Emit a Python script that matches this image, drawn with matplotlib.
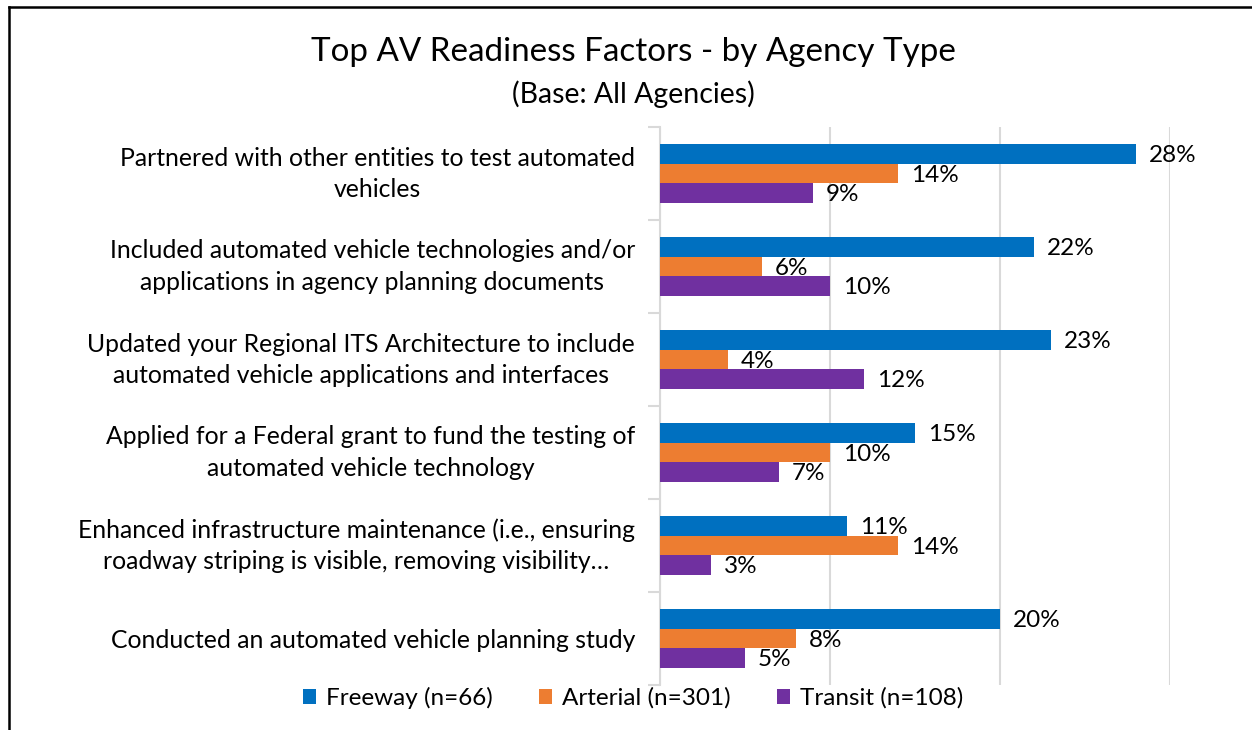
import matplotlib.pyplot as plt
import numpy as np
from matplotlib.lines import Line2D
from matplotlib.transforms import ScaledTranslation

plt.rcParams['font.family'] = ['Lato', 'DejaVu Sans']

# categories, top to bottom
categories = [
    "Partnered with other entities to test automated\nvehicles",
    "Included automated vehicle technologies and/or\napplications in agency planning documents",
    "Updated your Regional ITS Architecture to include\nautomated vehicle applications and interfaces",
    "Applied for a Federal grant to fund the testing of\nautomated vehicle technology",
    "Enhanced infrastructure maintenance (i.e., ensuring\nroadway striping is visible, removing visibility…",
    "Conducted an automated vehicle planning study",
]
series_names = ["Freeway (n=66)", "Arterial (n=301)", "Transit (n=108)"]
freeway = [28, 22, 23, 15, 11, 20]
arterial = [14, 6, 4, 10, 14, 8]
transit = [9, 10, 12, 7, 3, 5]
colors = ["#0070C0", "#ED7D31", "#7030A0"]

fig = plt.figure(figsize=(12.52, 7.3), dpi=100)
ax = fig.add_axes([660/1252, 1-685/730, 510/1252, 558/730])

n = len(categories)
y = np.arange(n)
h = 0.21
offsets = [-h, 0, h]
for vals, off, col, name in zip([freeway, arterial, transit], offsets, colors, series_names):
    bars = ax.barh(y + off, vals, height=h, color=col, label=name, zorder=3)
    for b, v in zip(bars, vals):
        ax.text(v + 0.75, b.get_y() + b.get_height()/2 + 0.02, "{}%".format(v),
                va='center', ha='left', fontsize=17.5, zorder=4)

ax.set_xlim(0, 30)
ax.set_ylim(n - 0.5, -0.5)
ax.set_xticks([0, 10, 20, 30])
ax.xaxis.grid(True, color="#D9D9D9", linewidth=1.5)
ax.tick_params(axis='x', length=0, labelbottom=False)
for s in ['top', 'right', 'bottom']:
    ax.spines[s].set_visible(False)
ax.spines['left'].set_color("#D9D9D9")
ax.spines['left'].set_linewidth(1.5)

# category labels and boundary ticks
ax.set_yticks(y)
ax.set_yticklabels(categories, fontsize=17.8, linespacing=1.45, ha='right', multialignment='center')
ax.tick_params(axis='y', length=0, pad=18)
shift = ScaledTranslation(0, 6/100, fig.dpi_scale_trans)
for lbl in ax.get_yticklabels():
    if "\n" in lbl.get_text():
        lbl.set_transform(lbl.get_transform() + shift)
ax.set_yticks(np.arange(n + 1) - 0.5, minor=True)
ax.tick_params(axis='y', which='minor', length=9, color="#D9D9D9", width=1.5)

fig.text(633/1252, 1-52/730, "Top AV Readiness Factors - by Agency Type", ha='center', va='center', fontsize=23.9)
fig.text(633/1252, 1-94/730, "(Base: All Agencies)", ha='center', va='center', fontsize=20.5)

fig.legend(loc='center', bbox_to_anchor=(633/1252, 1-698/730), ncol=3, frameon=False,
           fontsize=17.5, handlelength=0.55, handleheight=0.55, handletextpad=0.4, columnspacing=1.9)

# outer frame (left and top only)
fig.add_artist(Line2D([9/1252, 9/1252], [0, 1-7/730], color='black', linewidth=1.8))
fig.add_artist(Line2D([9/1252, 1], [1-7/730, 1-7/730], color='black', linewidth=1.8))

fig.savefig("out.png", dpi=100)
